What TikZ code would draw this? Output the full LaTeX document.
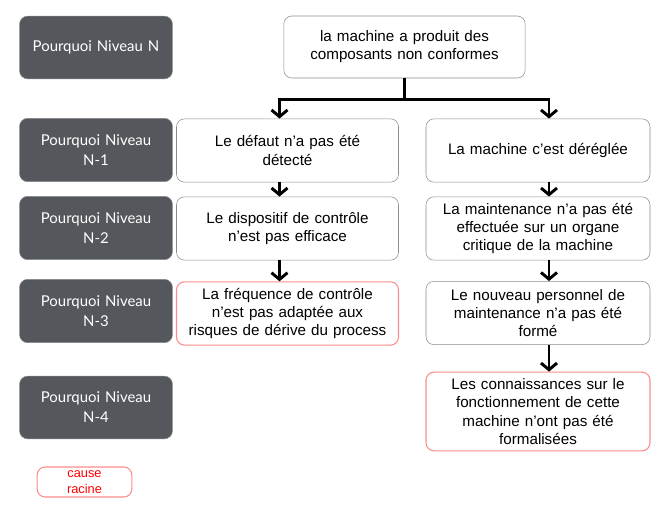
\documentclass[tikz,border=0pt]{standalone}
\usepackage{fontspec}
\setmainfont{Liberation Sans}
\newfontfamily\latofont{Lato}
\usetikzlibrary{arrows.meta}

\definecolor{niveaugris}{RGB}{84,87,92}
\definecolor{racinerouge}{RGB}{255,140,140}

\begin{document}
\begin{tikzpicture}
[
    x=0.75pt, y=-0.75pt,
    niveau/.style={fill=niveaugris, draw=niveaugris!70, rounded corners=6pt,
        minimum width=111pt, minimum height=47.5pt, text width=108pt,
        align=center, text=white, font=\latofont\fontsize{11.2}{15}\selectfont},
    cause/.style={fill=white, draw=black!45, rounded corners=6pt,
        minimum height=47.5pt, align=center, inner sep=1pt,
        font=\fontsize{11.4}{13.6}\selectfont},
    racine/.style={cause, draw=racinerouge, line width=0.8pt},
    fleche/.style={line width=2.2pt, -{Straight Barb[length=5pt, width=12pt]}},
]
\useasboundingbox (0,0) rectangle (667,510);

% niveaux
\node [niveau, minimum height=47pt] (pN) at (96,47.5) {Pourquoi Niveau N};
\node [niveau] (p1) at (96,150) {Pourquoi Niveau\\N-1};
\node [niveau] (p2) at (96,228) {Pourquoi Niveau\\N-2};
\node [niveau] (p3) at (96,311) {Pourquoi Niveau\\N-3};
\node [niveau, minimum height=47pt] (p4) at (96,407.5) {Pourquoi Niveau\\N-4};

% probleme
\node [cause, minimum width=181pt, text width=177pt, minimum height=46.5pt] (top) at (404.5,47)
{la machine a produit des\\composants non conformes};

% branche gauche
\node [cause, minimum width=166.5pt, text width=164pt] (a1) at (287.5,150.5)
{Le défaut n’a pas été\\détecté};
\node [cause, minimum width=166.5pt, text width=164pt] (a2) at (287.5,228.5)
{Le dispositif de contrôle\\n’est pas efficace};
\node [racine, minimum width=166.5pt, text width=164pt] (a3) at (287.5,313.5)
{La fréquence de contrôle\\n’est pas adaptée aux\\risques de dérive du process};

% branche droite
\node [cause, minimum width=168pt, text width=165pt] (b1) at (538,150.5)
{La machine c’est déréglée};
\node [cause, minimum width=168pt, text width=165pt] (b2) at (538,228.5)
{La maintenance n’a pas été\\effectuée sur un organe\\critique de la machine};
\node [cause, minimum width=168pt, text width=165pt] (b3) at (538,313)
{Le nouveau personnel de\\maintenance n’a pas été\\formé};
\node [racine, minimum width=168pt, text width=165pt, minimum height=59pt] (b4) at (538,411.5)
{Les connaissances sur le\\fonctionnement de cette\\machine n’ont pas été\\formalisées};

% legende
\node [racine, minimum width=71pt, minimum height=22.5pt, text=red, inner sep=0pt,
    font=\fontsize{9.6}{11.5}\selectfont] (leg) at (84.5,482) {cause\\racine};

% fleches
\draw [line width=2.2pt] (top.south) -- ++(0,21) coordinate (fork);
\draw [fleche] (fork) -| ([xshift=-6pt]a1.north);
\draw [fleche] (fork) -| ([xshift=8.25pt]b1.north);
\draw [fleche] ([xshift=-6pt]a1.south) -- ([xshift=-6pt]a2.north);
\draw [fleche] ([xshift=-6pt]a2.south) -- ([xshift=-6pt]a3.north);
\draw [fleche] ([xshift=8.25pt]b1.south) -- ([xshift=8.25pt]b2.north);
\draw [fleche] ([xshift=8.25pt]b2.south) -- ([xshift=8.25pt]b3.north);
\draw [fleche] ([xshift=8.25pt]b3.south) -- ([xshift=8.25pt]b4.north);
\end{tikzpicture}
\end{document}
